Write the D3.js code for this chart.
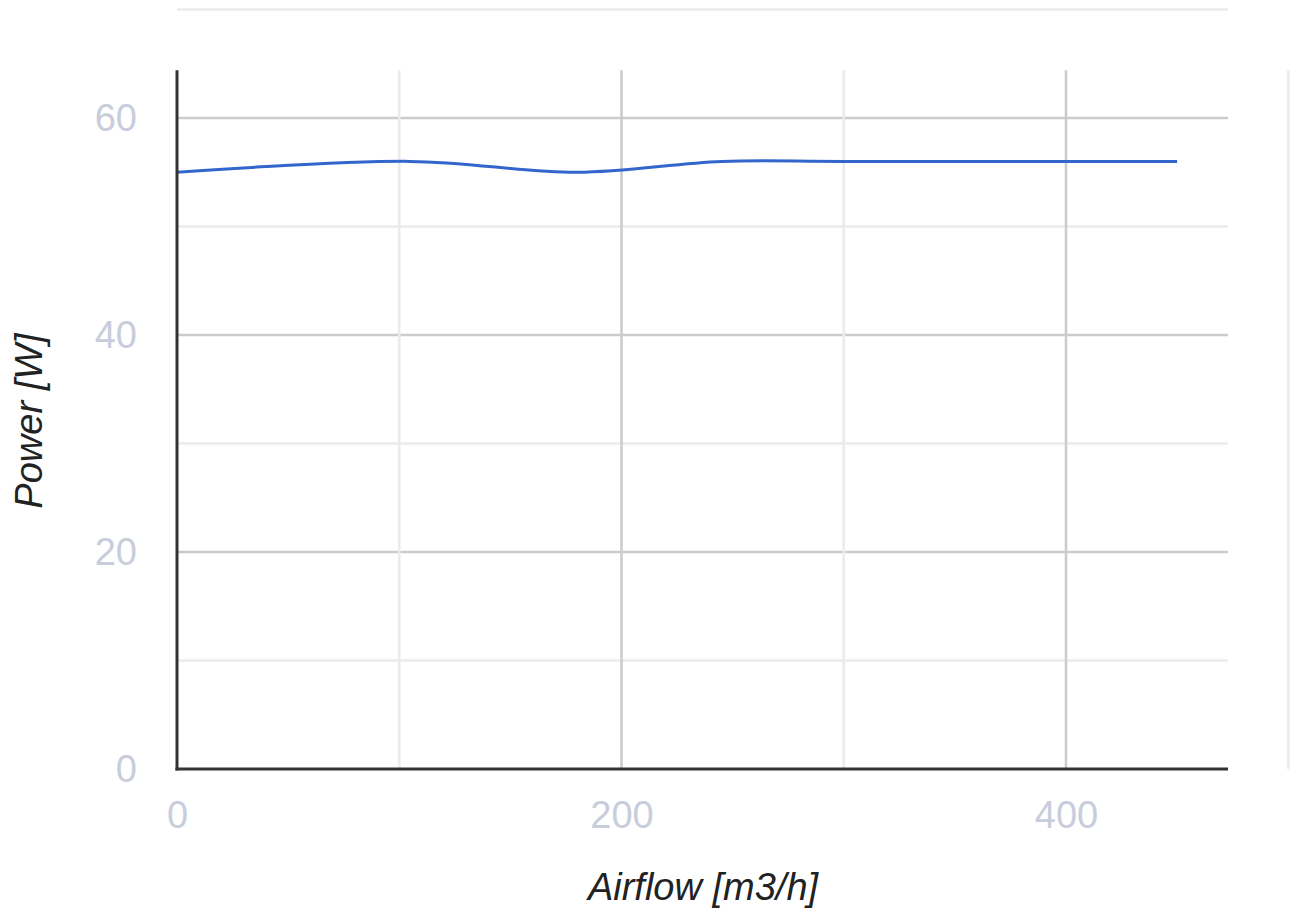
<!DOCTYPE html>
<html>
<head>
<meta charset="utf-8">
<script src="https://cdn.jsdelivr.net/npm/d3@7"></script>
<style>
  html, body { margin: 0; padding: 0; background: #fff; }
  svg { display: block; }
  text { font-family: Arial, "Liberation Sans", sans-serif; }
</style>
</head>
<body>
<svg id="chart" width="1290" height="913"></svg>
<script>
// ---- data ----
const airflow = [0, 105, 180, 245, 300, 450];
const power   = [55, 56, 55, 56, 56, 56];
const xTickValues = [0, 200, 400];
const yTickValues = [0, 20, 40, 60];
const xGridMajor = [200, 400];
const xGridMinor = [100, 300, 500];
const yGridMajor = [20, 40, 60];
const yGridMinor = [10, 30, 50, 70];
const xTitle = "Airflow [m3/h]";
const yTitle = "Power [W]";

// ---- layout ----
const W = 1290, H = 913;
const svg = d3.select("#chart");
svg.append("rect").attr("width", W).attr("height", H).attr("fill", "#fff");

const x = d3.scaleLinear().domain([0, 500]).range([177, 1288.25]);
const y = d3.scaleLinear().domain([0, 70]).range([769, 9.5]);
const xMax = 472.9, yMax = 64.4;

const grid = svg.append("g");
grid.selectAll(".hmin").data(yGridMinor).join("line")
  .attr("x1", x(0)).attr("x2", x(xMax))
  .attr("y1", d => y(d)).attr("y2", d => y(d))
  .attr("stroke", "#ebebeb").attr("stroke-width", 2.6);
grid.selectAll(".hmaj").data(yGridMajor).join("line")
  .attr("x1", x(0)).attr("x2", x(xMax))
  .attr("y1", d => y(d)).attr("y2", d => y(d))
  .attr("stroke", "#cccccc").attr("stroke-width", 2.6);
grid.selectAll(".vmin").data(xGridMinor).join("line")
  .attr("x1", d => x(d)).attr("x2", d => x(d))
  .attr("y1", y(yMax)).attr("y2", y(0))
  .attr("stroke", "#ebebeb").attr("stroke-width", 2.6);
grid.selectAll(".vmaj").data(xGridMajor).join("line")
  .attr("x1", d => x(d)).attr("x2", d => x(d))
  .attr("y1", y(yMax)).attr("y2", y(0))
  .attr("stroke", "#cccccc").attr("stroke-width", 2.6);

// series line
const pts = airflow.map((a, i) => [a, power[i]]);
const line = d3.line().x(d => x(d[0])).y(d => y(d[1])).curve(d3.curveCatmullRom.alpha(0.5));
svg.append("path").datum(pts)
  .attr("d", line)
  .attr("fill", "none")
  .attr("stroke", "#3366cc")
  .attr("stroke-width", 3);

// axis lines
svg.append("line").attr("x1", x(0)).attr("x2", x(0))
  .attr("y1", y(yMax)).attr("y2", y(0) + 1.5)
  .attr("stroke", "#333").attr("stroke-width", 3);
svg.append("line").attr("x1", x(0) - 1.5).attr("x2", x(xMax))
  .attr("y1", y(0)).attr("y2", y(0))
  .attr("stroke", "#333").attr("stroke-width", 3);

// tick labels via d3 axes
const xAxis = svg.append("g").attr("transform", `translate(0,${y(0)})`)
  .call(d3.axisBottom(x).tickValues(xTickValues).tickSize(0).tickPadding(32).tickFormat(d3.format("d")));
const yAxis = svg.append("g").attr("transform", `translate(${x(0)},0)`)
  .call(d3.axisLeft(y).tickValues(yTickValues).tickSize(0).tickPadding(40).tickFormat(d3.format("d")));
[xAxis, yAxis].forEach(g => {
  g.select(".domain").remove();
  g.selectAll("text")
    .attr("font-family", "Arial, 'Liberation Sans', sans-serif")
    .attr("font-size", 38)
    .attr("fill", "#c8cddc");
});

// axis titles
svg.append("text")
  .attr("x", 703).attr("y", 900)
  .attr("text-anchor", "middle")
  .attr("font-size", 38).attr("font-style", "italic")
  .attr("fill", "#222")
  .text(xTitle);
svg.append("text")
  .attr("transform", "translate(42,421) rotate(-90)")
  .attr("text-anchor", "middle")
  .attr("font-size", 38).attr("font-style", "italic")
  .attr("fill", "#222")
  .text(yTitle);
</script>
</body>
</html>
